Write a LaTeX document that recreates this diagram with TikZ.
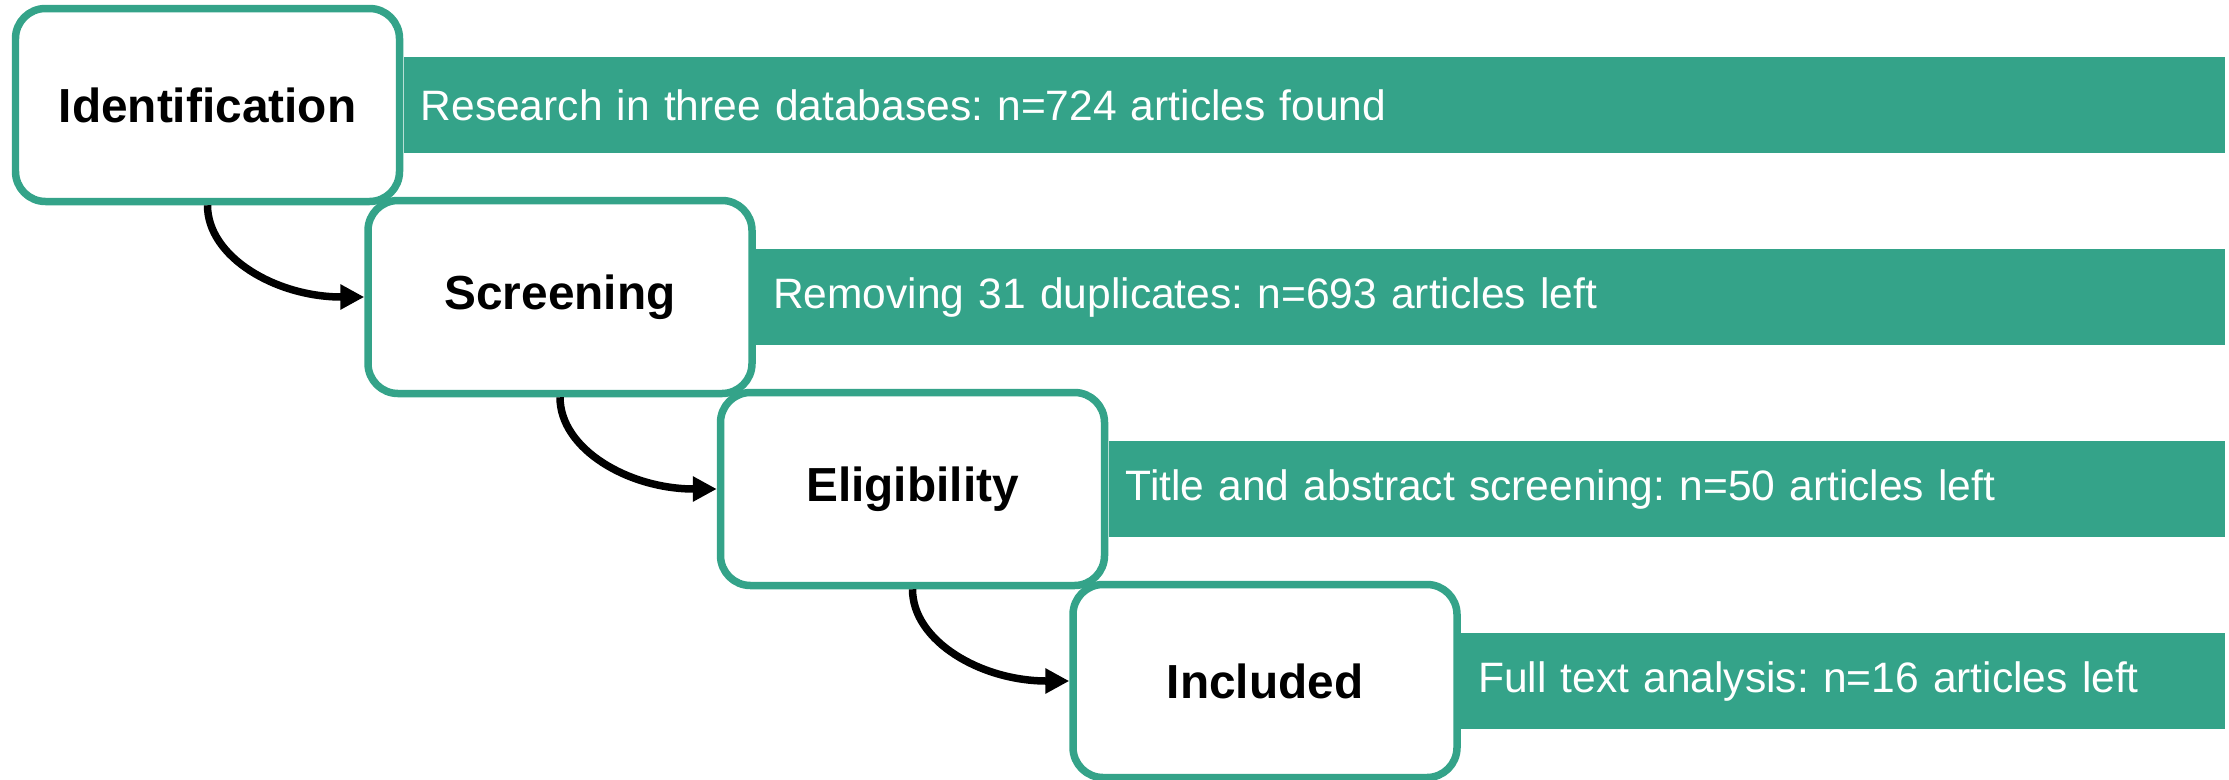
\documentclass[tikz,border=0pt]{standalone}
\usepackage{fontspec}
\setmainfont{Liberation Sans}
\usetikzlibrary{arrows.meta}
\definecolor{prisma}{RGB}{52,163,137}
\frenchspacing

\begin{document}
\begin{tikzpicture}[
  stage/.style={draw=prisma, line width=0.075cm, rounded corners=0.3cm, fill=white,
    minimum width=3.84cm, minimum height=1.93cm, inner sep=0pt,
    font=\bfseries\fontsize{13.6}{16}\selectfont},
  bar/.style={fill=prisma, text=white, anchor=west, minimum height=0.96cm,
    inner xsep=0.17cm, inner ysep=0pt, align=left,
    font=\fontsize{12.1}{14}\selectfont},
  flow/.style={line width=0.075cm, -{Triangle[length=0.24cm,width=0.24cm]}}
]
\useasboundingbox (0,0) rectangle (22.29,-7.79);
\node [bar, text width=17.87cm] (found) at (4.03,-1.05) {Research in three databases: n=724 articles found};
\node [bar, text width=14.345cm] (dupl) at (7.555,-2.97) {Removing 31 duplicates: n=693 articles left};
\node [bar, text width=10.82cm] (abstr) at (11.08,-4.89) {Title and abstract screening: n=50 articles left};
\node [bar, text width=7.295cm] (full) at (14.605,-6.81) {Full text analysis: n=16 articles left};
\node [stage] (ident) at (2.075,-1.05) {Identification};
\node [stage] (screen) at (5.6,-2.97) {Screening};
\node [stage] (elig) at (9.125,-4.89) {Eligibility};
\node [stage] (incl) at (12.65,-6.81) {Included};
\draw [flow] (ident.south) .. controls +(0,-0.52) and +(-0.88,0) .. (screen.west);
\draw [flow] (screen.south) .. controls +(0,-0.52) and +(-0.88,0) .. (elig.west);
\draw [flow] (elig.south) .. controls +(0,-0.52) and +(-0.88,0) .. (incl.west);
\end{tikzpicture}
\end{document}
